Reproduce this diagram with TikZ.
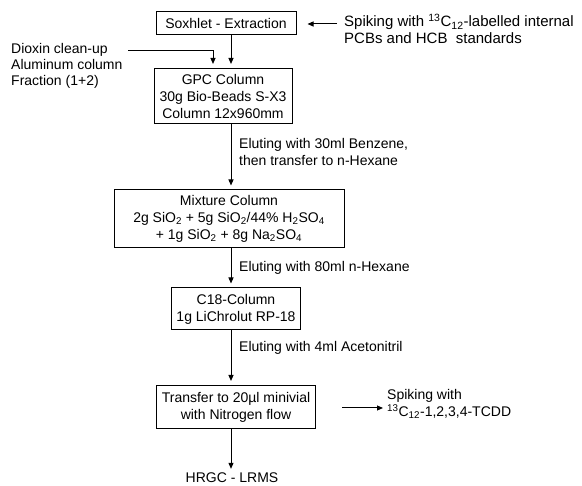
\documentclass[tikz,border=0pt]{standalone}
\usepackage{fontspec}
\setmainfont{Liberation Sans}
\usepackage{tikz}
\usetikzlibrary{arrows.meta}

\begin{document}
\begin{tikzpicture}[x=1pt, y=-1pt,
	every node/.style={font=\fontsize{14}{17}\selectfont, inner sep=0pt},
	stagebox/.style={draw, line width=1pt, align=center},
	note/.style={anchor=west, align=left},
	arr/.style={line width=1pt, -{Triangle[length=6pt, width=5pt]}, shorten >=4pt}]
	\useasboundingbox (0,0) rectangle (582,486);
	\coordinate (col) at (231, 0);
	\coordinate (dioxcol) at (213, 0);
	\coordinate (dioxstart) at (128, 51);
	\coordinate (spikestart) at (337, 24);
	\coordinate (tcddstart) at (342, 408);
	\node[stagebox, minimum width=140, minimum height=23] (soxhlet) at (226, 23) {Soxhlet - Extraction};
	\node[note, font=\fontsize{15}{17}\selectfont] (spikeint) at (344, 29) {Spiking with \textsuperscript{13}C\textsubscript{12}-labelled internal\\PCBs and HCB\ \ standards};
	\node[note, font=\fontsize{14}{16}\selectfont] (dioxin) at (11, 66) {Dioxin clean-up\\Aluminum column\\Fraction (1+2)};
	\node[stagebox, minimum width=138, minimum height=55] (gpc) at (223, 96) {GPC Column\\30g Bio-Beads S-X3\\Column 12x960mm};
	\node[note] (elute1) at (239, 152) {Eluting with 30ml Benzene,\\then transfer to n-Hexane};
	\node[stagebox, minimum width=230, minimum height=58] (mixture) at (229, 219) {Mixture Column\\2g SiO\textsubscript{2} + 5g SiO\textsubscript{2}/44\% H\textsubscript{2}SO\textsubscript{4}\\+ 1g SiO\textsubscript{2} + 8g Na\textsubscript{2}SO\textsubscript{4}};
	\node[note] (elute2) at (239, 268) {Eluting with 80ml n-Hexane};
	\node[stagebox, minimum width=129, minimum height=42] (c18) at (236, 309) {C18-Column\\1g LiChrolut RP-18};
	\node[note] (elute3) at (239, 348) {Eluting with 4ml Acetonitril};
	\node[stagebox, minimum width=159, minimum height=43] (minivial) at (236, 407) {Transfer to 20µl minivial\\with Nitrogen flow};
	\node[note] (spiketcdd) at (387, 404) {Spiking with\\\textsuperscript{13}C\textsubscript{12}-1,2,3,4-TCDD};
	\node (hrgc) at (232, 478) {HRGC - LRMS};
	\draw[arr, shorten >=11pt] (spikestart) -- (soxhlet.east |- spikestart);
	\draw[arr] (dioxstart) -| (dioxcol |- gpc.north);
	\draw[arr] (col |- soxhlet.south) -- (col |- gpc.north);
	\draw[arr] (col |- gpc.south) -- (col |- mixture.north);
	\draw[arr] (col |- mixture.south) -- (col |- c18.north);
	\draw[arr] (col |- c18.south) -- (col |- minivial.north);
	\draw[arr] (tcddstart) -- (spiketcdd.west |- tcddstart);
	\draw[arr] (col |- minivial.south) -- (col |- hrgc.north);
\end{tikzpicture}
\end{document}
